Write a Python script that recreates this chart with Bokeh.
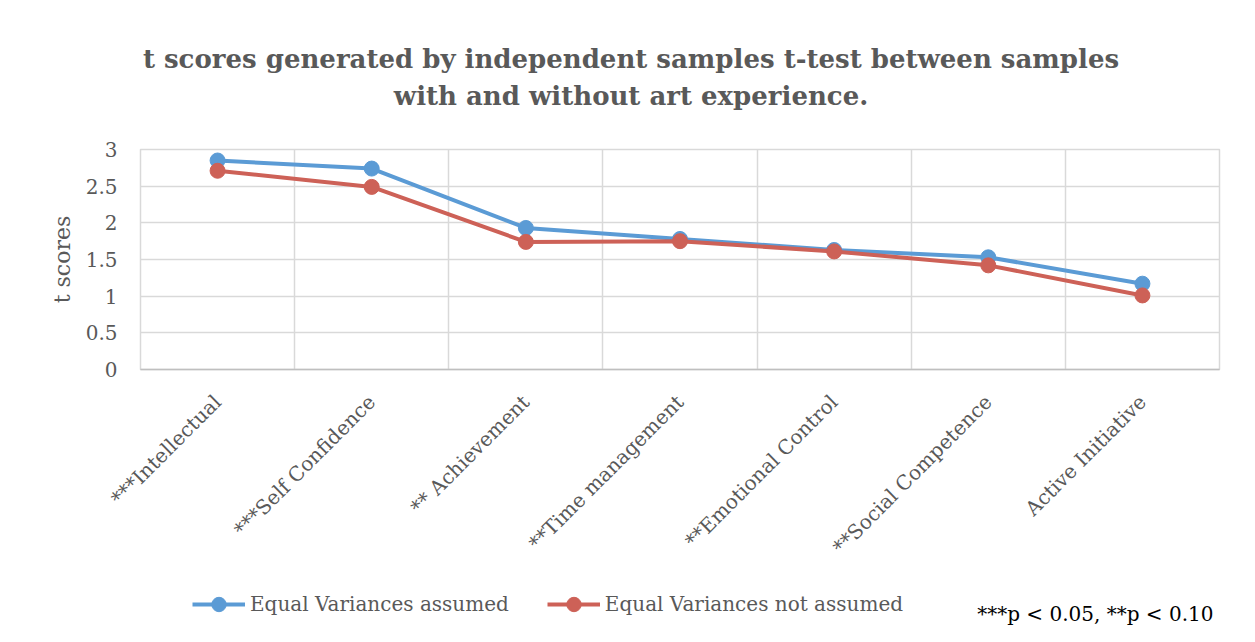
from math import pi
from bokeh.plotting import figure
from bokeh.layouts import column
from bokeh.models import (FactorRange, Range1d, FixedTicker, Grid, Legend, LegendItem, Label)
from bokeh.embed import file_html
from bokeh.resources import INLINE

categories = ["***Intellectual", "***Self Confidence", "** Achievement", "**Time management",
              "**Emotional Control", "**Social Competence", "Active Initiative"]
equal_assumed = [2.85, 2.74, 1.93, 1.78, 1.63, 1.53, 1.17]
equal_not_assumed = [2.71, 2.49, 1.74, 1.75, 1.61, 1.42, 1.01]
series_names = ["Equal Variances assumed", "Equal Variances not assumed"]
y_ticks = [0, 0.5, 1, 1.5, 2, 2.5, 3]
title_lines = ["t scores generated by independent samples t-test between samples",
               "with and without art experience."]
footnote = "***p < 0.05, **p < 0.10"

BLUE = "#5B9BD5"
RED = "#CD6157"
GRAY = "#595959"
FONT = "DejaVu Serif"
W = 1239
H_HEAD = 134
H_MAIN = 436
H_LEG = 56

# ---------- header strip with the two title lines ----------
t = figure(width=W, height=H_HEAD, output_backend="svg", toolbar_location=None,
           x_range=Range1d(0, 1), y_range=Range1d(0, 1),
           x_axis_location=None, y_axis_location=None, min_border=0)
t.outline_line_color = None
t.grid.visible = False
for txt, yy in zip(title_lines, [H_HEAD - 58, H_HEAD - 95]):
    t.add_layout(Label(x=490.5, y=yy, x_units="screen", y_units="screen", text=txt,
                       text_align="center", text_baseline="middle", text_font=FONT,
                       text_font_size="26px", text_font_style="bold", text_color=GRAY))

# ---------- main chart ----------
p = figure(width=W, height=H_MAIN, output_backend="svg", toolbar_location=None,
           x_range=FactorRange(factors=categories, range_padding=0),
           y_range=Range1d(0, 3),
           min_border_left=140, min_border_right=20, min_border_top=15,
           min_border_bottom=201)
p.background_fill_color = "white"
p.border_fill_color = "white"
p.outline_line_color = "#D9D9D9"
p.outline_line_width = 1.5

p.ygrid.ticker = FixedTicker(ticks=y_ticks)
p.ygrid.grid_line_color = "#D9D9D9"
p.ygrid.grid_line_width = 1.5
p.xgrid.visible = False
p.add_layout(Grid(dimension=0, ticker=FixedTicker(ticks=[1, 2, 3, 4, 5, 6]),
                  grid_line_color="#D9D9D9", grid_line_width=1.5))

p.yaxis.ticker = FixedTicker(ticks=y_ticks)
p.yaxis.axis_line_color = None
p.yaxis.major_tick_line_color = None
p.yaxis.minor_tick_line_color = None
p.yaxis.major_tick_out = 0
p.yaxis.major_label_standoff = 23
p.yaxis.major_label_text_font = FONT
p.yaxis.major_label_text_font_size = "20px"
p.yaxis.major_label_text_color = GRAY
p.yaxis.axis_label = "t scores"
p.yaxis.axis_label_text_font = FONT
p.yaxis.axis_label_text_font_size = "22px"
p.yaxis.axis_label_text_font_style = "normal"
p.yaxis.axis_label_text_color = GRAY
p.yaxis.axis_label_standoff = 8

p.xaxis.axis_line_color = "#BFBFBF"
p.xaxis.axis_line_width = 1.5
p.xaxis.major_tick_line_color = None
p.xaxis.minor_tick_line_color = None
p.xaxis.major_tick_out = 0
p.xaxis.major_label_orientation = pi / 4
p.xaxis.major_label_standoff = 29
p.xaxis.major_label_text_font = FONT
p.xaxis.major_label_text_font_size = "20px"
p.xaxis.major_label_text_color = GRAY

p.line(categories, equal_assumed, line_color=BLUE, line_width=4)
p.scatter(categories, equal_assumed, size=15, fill_color=BLUE, line_color=BLUE)
p.line(categories, equal_not_assumed, line_color=RED, line_width=4)
p.scatter(categories, equal_not_assumed, size=15, fill_color=RED, line_color=RED)

# ---------- legend strip ----------
q = figure(width=W, height=H_LEG, output_backend="svg", toolbar_location=None,
           x_range=FactorRange(factors=categories, range_padding=0), y_range=Range1d(0, 3),
           x_axis_location=None, y_axis_location=None, min_border=0)
q.outline_line_color = None
q.grid.visible = False
ql1 = q.line(categories, equal_assumed, line_color=BLUE, line_width=4, visible=False)
qs1 = q.scatter(categories, equal_assumed, size=15, fill_color=BLUE, line_color=BLUE, visible=False)
ql2 = q.line(categories, equal_not_assumed, line_color=RED, line_width=4, visible=False)
qs2 = q.scatter(categories, equal_not_assumed, size=15, fill_color=RED, line_color=RED, visible=False)

legend = Legend(items=[LegendItem(label=series_names[0], renderers=[ql1, qs1]),
                       LegendItem(label=series_names[1], renderers=[ql2, qs2])],
                orientation="horizontal", location=(52, 4),
                glyph_width=53, glyph_height=36, label_standoff=5, spacing=38,
                padding=0, margin=0, border_line_color=None, background_fill_alpha=0,
                inactive_fill_alpha=0, click_policy="none",
                label_text_font=FONT, label_text_font_size="20px", label_text_color=GRAY)
q.add_layout(legend, "center")

q.add_layout(Label(x=1073, y=13, x_units="screen", y_units="screen", text=footnote,
                   text_align="right", text_baseline="middle", text_font=FONT,
                   text_font_size="20px", text_color="black"))

layout = column(t, p, q, spacing=0)
open("out.html", "w").write(file_html(layout, INLINE))
